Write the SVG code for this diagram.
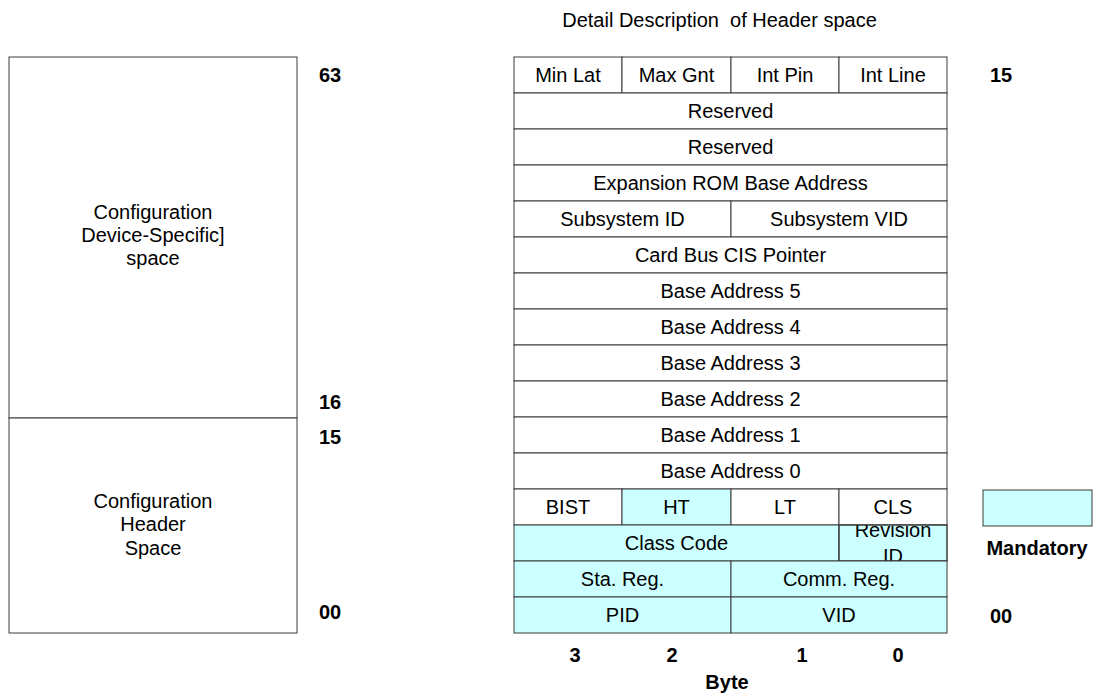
<svg xmlns="http://www.w3.org/2000/svg" width="1094" height="695" viewBox="0 0 1094 695">
<style>
.c{fill:#ffffff;stroke:#3a3a3a;stroke-width:1}
.m{fill:#ccffff;stroke:#3a3a3a;stroke-width:1}
.t{font-family:"Liberation Sans",Arial,sans-serif;font-size:20px;fill:#000;text-anchor:middle}
.b{font-family:"Liberation Sans",Arial,sans-serif;font-size:20px;font-weight:bold;fill:#000;text-anchor:middle}
</style>
<defs>
<clipPath id="clipRev"><rect x="839" y="525" width="108" height="36"/></clipPath>
</defs>
<rect width="1094" height="695" fill="#ffffff"/>
<text class="t" x="719.5" y="27" xml:space="preserve" style="white-space:pre">Detail Description  of Header space</text>

<g id="dev-specific"><rect class="c" x="9" y="57" width="288" height="361"/>
<text class="t" x="153" y="219">Configuration</text><text class="t" x="153" y="242">Device-Specific]</text><text class="t" x="153" y="265">space</text></g>
<g id="header-space"><rect class="c" x="9" y="418" width="288" height="215"/>
<text class="t" x="153" y="508">Configuration</text><text class="t" x="153" y="531">Header</text><text class="t" x="153" y="555">Space</text></g>

<g id="offsets">
<text class="b" x="330" y="82">63</text>
<text class="b" x="330" y="409">16</text>
<text class="b" x="330" y="444">15</text>
<text class="b" x="330" y="619">00</text>
<text class="b" x="1001" y="82">15</text>
<text class="b" x="1001" y="623">00</text>
</g>

<g id="min-lat"><rect class="c" x="514" y="57" width="108" height="36"/><text class="t" x="568" y="82">Min Lat</text></g>
<g id="max-gnt"><rect class="c" x="622" y="57" width="109" height="36"/><text class="t" x="676.5" y="82">Max Gnt</text></g>
<g id="int-pin"><rect class="c" x="731" y="57" width="108" height="36"/><text class="t" x="785" y="82">Int Pin</text></g>
<g id="int-line"><rect class="c" x="839" y="57" width="108" height="36"/><text class="t" x="893" y="82">Int Line</text></g>
<g id="reserved-1"><rect class="c" x="514" y="93" width="433" height="36"/><text class="t" x="730.5" y="118">Reserved</text></g>
<g id="reserved-2"><rect class="c" x="514" y="129" width="433" height="36"/><text class="t" x="730.5" y="154">Reserved</text></g>
<g id="expansion-rom"><rect class="c" x="514" y="165" width="433" height="36"/><text class="t" x="730.5" y="190">Expansion ROM Base Address</text></g>
<g id="subsystem-id"><rect class="c" x="514" y="201" width="217" height="36"/><text class="t" x="622.5" y="226">Subsystem ID</text></g>
<g id="subsystem-vid"><rect class="c" x="731" y="201" width="216" height="36"/><text class="t" x="839" y="226">Subsystem VID</text></g>
<g id="cardbus"><rect class="c" x="514" y="237" width="433" height="36"/><text class="t" x="730.5" y="262">Card Bus CIS Pointer</text></g>
<g id="ba5"><rect class="c" x="514" y="273" width="433" height="36"/><text class="t" x="730.5" y="298">Base Address 5</text></g>
<g id="ba4"><rect class="c" x="514" y="309" width="433" height="36"/><text class="t" x="730.5" y="334">Base Address 4</text></g>
<g id="ba3"><rect class="c" x="514" y="345" width="433" height="36"/><text class="t" x="730.5" y="370">Base Address 3</text></g>
<g id="ba2"><rect class="c" x="514" y="381" width="433" height="36"/><text class="t" x="730.5" y="406">Base Address 2</text></g>
<g id="ba1"><rect class="c" x="514" y="417" width="433" height="36"/><text class="t" x="730.5" y="442">Base Address 1</text></g>
<g id="ba0"><rect class="c" x="514" y="453" width="433" height="36"/><text class="t" x="730.5" y="478">Base Address 0</text></g>
<g id="bist"><rect class="c" x="514" y="489" width="108" height="36"/><text class="t" x="568" y="514">BIST</text></g>
<g id="ht"><rect class="m" x="622" y="489" width="109" height="36"/><text class="t" x="676.5" y="514">HT</text></g>
<g id="lt"><rect class="c" x="731" y="489" width="108" height="36"/><text class="t" x="785" y="514">LT</text></g>
<g id="cls"><rect class="c" x="839" y="489" width="108" height="36"/><text class="t" x="893" y="514">CLS</text></g>
<g id="class-code"><rect class="m" x="514" y="525" width="325" height="36"/><text class="t" x="676.5" y="550">Class Code</text></g>
<g id="revision-id"><rect class="m" x="839" y="525" width="108" height="36"/><g clip-path="url(#clipRev)"><text class="t" x="893" y="537">Revision</text><text class="t" x="893" y="563">ID</text></g><rect x="839" y="525" width="108" height="36" fill="none" stroke="#3a3a3a"/></g>
<g id="sta-reg"><rect class="m" x="514" y="561" width="217" height="36"/><text class="t" x="622.5" y="586">Sta. Reg.</text></g>
<g id="comm-reg"><rect class="m" x="731" y="561" width="216" height="36"/><text class="t" x="839" y="586">Comm. Reg.</text></g>
<g id="pid"><rect class="m" x="514" y="597" width="217" height="36"/><text class="t" x="622.5" y="622">PID</text></g>
<g id="vid"><rect class="m" x="731" y="597" width="216" height="36"/><text class="t" x="839" y="622">VID</text></g>

<g id="bytes">
<text class="b" x="575" y="662">3</text>
<text class="b" x="672" y="662">2</text>
<text class="b" x="802" y="662">1</text>
<text class="b" x="898" y="662">0</text>
<text class="b" x="727" y="689">Byte</text>
</g>

<g id="legend"><rect class="m" x="983" y="490" width="109" height="36"/><text class="b" x="1037" y="555">Mandatory</text></g>
<g id="connectors"/>
</svg>
